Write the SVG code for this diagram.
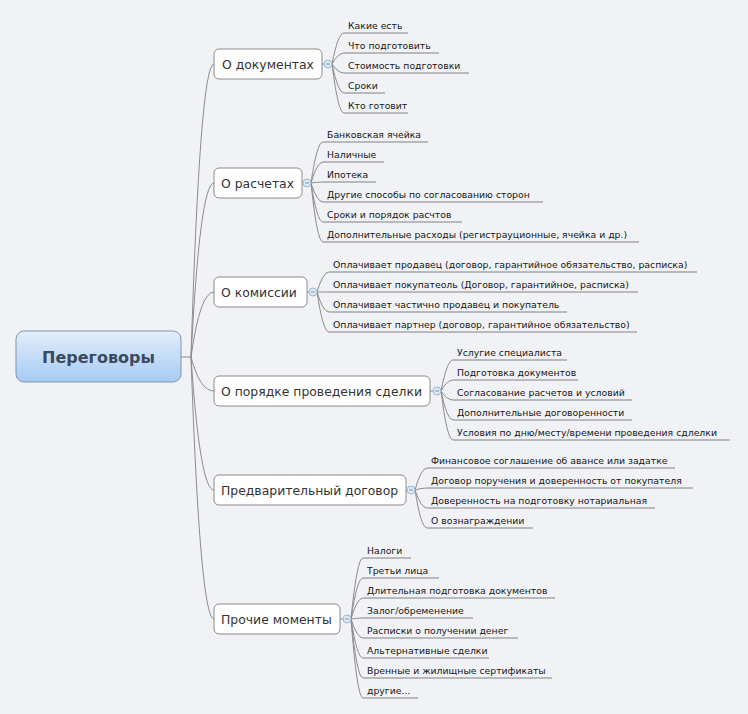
<svg xmlns="http://www.w3.org/2000/svg" width="748" height="714" viewBox="0 0 748 714">
<defs>
<linearGradient id="rootGrad" x1="0" y1="0" x2="0" y2="1">
<stop offset="0" stop-color="#e2eefb"/>
<stop offset="1" stop-color="#a6cbf3"/>
</linearGradient>
</defs>
<style>
.bg{fill:#f1f2f6}
.root rect{fill:url(#rootGrad);stroke:#8295aa;stroke-width:1}
.root text{font-family:"DejaVu Sans",sans-serif;font-size:16px;font-weight:bold;fill:#3b4a5e;text-anchor:middle}
.branch rect{fill:#ffffff;stroke:#8a8a8a;stroke-width:1}
.branch text{font-family:"DejaVu Sans",sans-serif;font-size:12.4px;fill:#333333}
.btn circle{fill:#dbe8f6;stroke:#a3b7cd;stroke-width:1}
.btn line{stroke:#7f98b5;stroke-width:1}
.leaf text{font-family:"DejaVu Sans",sans-serif;font-size:9.3px;fill:#151515}
.leaf line{stroke:#808080;stroke-width:1}
#connectors path,#connectors line{fill:none;stroke:#8c8c8c;stroke-width:1}
</style>
<rect class="bg" x="0" y="0" width="748" height="714"/>

<g id="connectors">
<line x1="181" y1="357" x2="191" y2="357"/>
<path d="M191,357 Q200,64 214,64"/>
<path d="M191,357 Q200,183 214,183"/>
<path d="M191,357 Q200,292 214,292"/>
<path d="M191,357 Q200,391 214,391"/>
<path d="M191,357 Q200,490 214,490"/>
<path d="M191,357 Q200,619 214,619"/>
<line x1="322" y1="64" x2="324" y2="64"/>
<line x1="302" y1="183" x2="303" y2="183"/>
<line x1="307" y1="292" x2="309" y2="292"/>
<line x1="430" y1="391" x2="433" y2="391"/>
<line x1="406" y1="490" x2="407" y2="490"/>
<line x1="340" y1="619" x2="343" y2="619"/>
<path d="M332,64 Q338,33 344,33"/>
<path d="M332,64 Q338,53 344,53"/>
<path d="M332,64 Q338,73 344,73"/>
<path d="M332,64 Q338,93 344,93"/>
<path d="M332,64 Q338,113 344,113"/>
<path d="M311,183 Q317,142 323,142"/>
<path d="M311,183 Q317,162 323,162"/>
<path d="M311,183 Q317,182 323,182"/>
<path d="M311,183 Q317,202 323,202"/>
<path d="M311,183 Q317,222 323,222"/>
<path d="M311,183 Q317,242 323,242"/>
<path d="M317,292 Q323,272 329,272"/>
<path d="M317,292 Q323,292 329,292"/>
<path d="M317,292 Q323,312 329,312"/>
<path d="M317,292 Q323,332 329,332"/>
<path d="M441,391 Q447,360 453,360"/>
<path d="M441,391 Q447,380 453,380"/>
<path d="M441,391 Q447,400 453,400"/>
<path d="M441,391 Q447,420 453,420"/>
<path d="M441,391 Q447,440 453,440"/>
<path d="M415,490 Q421,468 427,468"/>
<path d="M415,490 Q421,488 427,488"/>
<path d="M415,490 Q421,508 427,508"/>
<path d="M415,490 Q421,528 427,528"/>
<path d="M351,619 Q357,558 363,558"/>
<path d="M351,619 Q357,578 363,578"/>
<path d="M351,619 Q357,598 363,598"/>
<path d="M351,619 Q357,618 363,618"/>
<path d="M351,619 Q357,638 363,638"/>
<path d="M351,619 Q357,658 363,658"/>
<path d="M351,619 Q357,678 363,678"/>
<path d="M351,619 Q357,698 363,698"/>
</g>

<g id="root" class="root">
<rect x="16" y="331" width="165" height="51" rx="8"/>
<text x="98.5" y="363">Переговоры</text>
</g>

<g id="b1" class="branch">
<rect x="214" y="49" width="108" height="30" rx="5"/>
<text x="222" y="68.5">О документах</text>
<g class="btn"><circle cx="328" cy="64" r="4"/><line x1="326" y1="64" x2="330" y2="64"/></g>
</g>
<g id="b1-1" class="leaf"><line x1="344" y1="33" x2="408" y2="33"/><text x="348" y="29">Какие есть</text></g>
<g id="b1-2" class="leaf"><line x1="344" y1="53" x2="439" y2="53"/><text x="348" y="49">Что подготовить</text></g>
<g id="b1-3" class="leaf"><line x1="344" y1="73" x2="469" y2="73"/><text x="348" y="69">Стоимость подготовки</text></g>
<g id="b1-4" class="leaf"><line x1="344" y1="93" x2="385" y2="93"/><text x="348" y="89">Сроки</text></g>
<g id="b1-5" class="leaf"><line x1="344" y1="113" x2="408" y2="113"/><text x="348" y="109">Кто готовит</text></g>

<g id="b2" class="branch">
<rect x="214" y="168" width="88" height="30" rx="5"/>
<text x="221" y="187.5">О расчетах</text>
<g class="btn"><circle cx="307" cy="183" r="4"/><line x1="305" y1="183" x2="309" y2="183"/></g>
</g>
<g id="b2-1" class="leaf"><line x1="323" y1="142" x2="428" y2="142"/><text x="327" y="138">Банковская ячейка</text></g>
<g id="b2-2" class="leaf"><line x1="323" y1="162" x2="384" y2="162"/><text x="327" y="158">Наличные</text></g>
<g id="b2-3" class="leaf"><line x1="323" y1="182" x2="376" y2="182"/><text x="327" y="178">Ипотека</text></g>
<g id="b2-4" class="leaf"><line x1="323" y1="202" x2="543" y2="202"/><text x="327" y="198">Другие способы по согласованию сторон</text></g>
<g id="b2-5" class="leaf"><line x1="323" y1="222" x2="462" y2="222"/><text x="327" y="218">Сроки и порядок расчтов</text></g>
<g id="b2-6" class="leaf"><line x1="323" y1="242" x2="639" y2="242"/><text x="327" y="238">Дополнительные расходы (регистрауционные, ячейка и др.)</text></g>

<g id="b3" class="branch">
<rect x="214" y="277" width="93" height="30" rx="5"/>
<text x="221" y="296.5">О комиссии</text>
<g class="btn"><circle cx="313" cy="292" r="4"/><line x1="311" y1="292" x2="315" y2="292"/></g>
</g>
<g id="b3-1" class="leaf"><line x1="329" y1="272" x2="697" y2="272"/><text x="333" y="268">Оплачивает продавец (договор, гарантийное обязательство, расписка)</text></g>
<g id="b3-2" class="leaf"><line x1="329" y1="292" x2="638" y2="292"/><text x="333" y="288">Оплачивает покупатеоль (Договор, гарантийное, расписка)</text></g>
<g id="b3-3" class="leaf"><line x1="329" y1="312" x2="567" y2="312"/><text x="333" y="308">Оплачивает частично продавец и покупатель</text></g>
<g id="b3-4" class="leaf"><line x1="329" y1="332" x2="637" y2="332"/><text x="333" y="328">Оплачивает партнер (договор, гарантийное обязательство)</text></g>

<g id="b4" class="branch">
<rect x="214" y="376" width="216" height="30" rx="5"/>
<text x="221" y="395.5">О порядке проведения сделки</text>
<g class="btn"><circle cx="437" cy="391" r="4"/><line x1="435" y1="391" x2="439" y2="391"/></g>
</g>
<g id="b4-1" class="leaf"><line x1="453" y1="360" x2="567" y2="360"/><text x="457" y="356">Услугие специалиста</text></g>
<g id="b4-2" class="leaf"><line x1="453" y1="380" x2="578" y2="380"/><text x="457" y="376">Подготовка документов</text></g>
<g id="b4-3" class="leaf"><line x1="453" y1="400" x2="632" y2="400"/><text x="457" y="396">Согласование расчетов и условий</text></g>
<g id="b4-4" class="leaf"><line x1="453" y1="420" x2="632" y2="420"/><text x="457" y="416">Дополнительные договоренности</text></g>
<g id="b4-5" class="leaf"><line x1="453" y1="440" x2="730" y2="440"/><text x="457" y="436">Условия по дню/месту/времени проведения сдлелки</text></g>

<g id="b5" class="branch">
<rect x="214" y="475" width="192" height="30" rx="5"/>
<text x="221" y="494.5">Предварительный договор</text>
<g class="btn"><circle cx="411" cy="490" r="4"/><line x1="409" y1="490" x2="413" y2="490"/></g>
</g>
<g id="b5-1" class="leaf"><line x1="427" y1="468" x2="675" y2="468"/><text x="431" y="464">Финансовое соглашение об авансе или задатке</text></g>
<g id="b5-2" class="leaf"><line x1="427" y1="488" x2="693" y2="488"/><text x="431" y="484">Договор поручения и доверенность от покупателя</text></g>
<g id="b5-3" class="leaf"><line x1="427" y1="508" x2="655" y2="508"/><text x="431" y="504">Доверенность на подготовку нотариальная</text></g>
<g id="b5-4" class="leaf"><line x1="427" y1="528" x2="533" y2="528"/><text x="431" y="524">О вознаграждении</text></g>

<g id="b6" class="branch">
<rect x="214" y="604" width="126" height="30" rx="5"/>
<text x="221" y="623.5">Прочие моменты</text>
<g class="btn"><circle cx="347" cy="619" r="4"/><line x1="345" y1="619" x2="349" y2="619"/></g>
</g>
<g id="b6-1" class="leaf"><line x1="363" y1="558" x2="411" y2="558"/><text x="367" y="554">Налоги</text></g>
<g id="b6-2" class="leaf"><line x1="363" y1="578" x2="439" y2="578"/><text x="367" y="574">Третьи лица</text></g>
<g id="b6-3" class="leaf"><line x1="363" y1="598" x2="555" y2="598"/><text x="367" y="594">Длительная подготовка документов</text></g>
<g id="b6-4" class="leaf"><line x1="363" y1="618" x2="473" y2="618"/><text x="367" y="614">Залог/обременение</text></g>
<g id="b6-5" class="leaf"><line x1="363" y1="638" x2="518" y2="638"/><text x="367" y="634">Расписки о получении денег</text></g>
<g id="b6-6" class="leaf"><line x1="363" y1="658" x2="489" y2="658"/><text x="367" y="654">Альтернативные сделки</text></g>
<g id="b6-7" class="leaf"><line x1="363" y1="678" x2="552" y2="678"/><text x="367" y="674">Вренные и жилищные сертификаты</text></g>
<g id="b6-8" class="leaf"><line x1="363" y1="698" x2="418" y2="698"/><text x="367" y="694">другие...</text></g>
</svg>
